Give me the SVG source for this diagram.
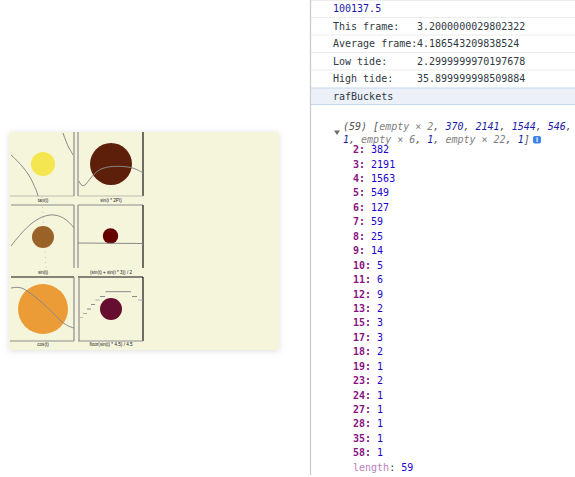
<svg xmlns="http://www.w3.org/2000/svg" width="575" height="477" viewBox="0 0 575 477">
<defs>
<filter id="sh" x="-10%" y="-10%" width="120%" height="120%">
<feDropShadow dx="0" dy="1" stdDeviation="3" flood-color="#000" flood-opacity="0.13"/>
</filter>
<clipPath id="cardclip"><rect x="9" y="132" width="270" height="218"/></clipPath>
</defs>
<style>
.mono{font-family:"DejaVu Sans Mono","Liberation Mono",monospace;font-size:10px}
.lbl{fill:#303942}
.num{fill:#1a1aa6}
.key{fill:#881280;font-weight:bold}
.val{fill:#1c00cf}
.gr{fill:#7f7f7f;font-style:italic}
.it{font-style:italic}
.sep{stroke:#ececec;stroke-width:1}
.cap{font-family:"Liberation Sans",Arial,sans-serif;font-size:4.6px;fill:#222;text-anchor:middle}
.crv{fill:none;stroke:#8a8a8a;stroke-width:1}
.bd{stroke:#8c8c8c;stroke-width:1.2}
.bk{stroke:#111;stroke-width:1.2}
.lt{stroke:#bdbdb0;stroke-width:1}
</style>
<rect width="575" height="477" fill="#ffffff"/>

<g id="card">
<rect x="9" y="132" width="270" height="218" fill="#f5f5dc" filter="url(#sh)"/>
<g clip-path="url(#cardclip)">
<g id="plot1">
<line class="lt" x1="10" y1="196" x2="74" y2="196"/>
<line class="bd" x1="74" y1="132" x2="74" y2="196"/>
<circle cx="43" cy="164" r="12" fill="#f3e650"/>
<path class="crv" d="M11,155 C20,163 28,172 33,183 C35,188 37,191 38,196"/>
<path class="crv" d="M63,133 C65,139 67,144 69,148 C71,151 72,153 73,155"/>
<text class="cap" x="43" y="202">tan(t)</text>
</g>
<g id="plot2">
<line class="bd" x1="78" y1="132" x2="78" y2="196"/>
<line class="bk" x1="143" y1="132" x2="143" y2="196"/>
<line class="lt" x1="78" y1="196" x2="143" y2="196" stroke="#aaa"/>
<circle cx="111" cy="164" r="21" fill="#5e1f0a"/>
<path class="crv" d="M79,181 C81,186 83,187 86,184 C91,178 96,170 104,168 C110,166 120,166 128,167 C135,168 140,171 143,173"/>
<text class="cap" x="111" y="202">sin(t * 2PI)</text>
</g>
<path d="M42,197 C43,220 45,250 47,282" fill="none" stroke="#9a9a9a" stroke-width="0.8" stroke-dasharray="1 4" opacity="0.7"/>
<g id="plot3">
<line class="bd" x1="11" y1="205" x2="74" y2="205"/>
<line class="bd" x1="74" y1="205" x2="74" y2="268"/>
<circle cx="43" cy="237" r="11" fill="#9a6227"/>
<path class="crv" d="M11,246 C22,232 34,217 50,215 C60,214 68,220 74,228"/>
<text class="cap" x="43" y="274">sin(t)</text>
</g>
<g id="plot4">
<line class="bd" x1="78" y1="205" x2="143" y2="205"/>
<line class="bd" x1="78" y1="205" x2="78" y2="268"/>
<line class="bk" x1="143" y1="205" x2="143" y2="268"/>
<circle cx="110.5" cy="236" r="7.7" fill="#660000"/>
<line class="crv" x1="78" y1="243" x2="143" y2="243.5" stroke="#8a8a8a"/>
<text class="cap" x="111" y="274">(sin(t) + sin(t * 3)) / 2</text>
</g>
<g id="plot5">
<line class="bk" x1="11" y1="277" x2="74" y2="277" stroke="#444"/>
<line class="bd" x1="74" y1="277" x2="74" y2="341"/>
<line class="bd" x1="10" y1="341" x2="74" y2="341"/>
<circle cx="43" cy="309" r="25" fill="#eb9c37"/>
<path class="crv" d="M11,288 C16,287 20,287 24,289 C36,296 50,310 60,320 C65,325 70,327 74,328"/>
<text class="cap" x="43" y="346">cos(t)</text>
</g>
<g id="plot6">
<line class="bk" x1="78" y1="277" x2="143" y2="277"/>
<line class="bd" x1="79" y1="277" x2="79" y2="341" stroke="#555"/>
<line class="bk" x1="143" y1="277" x2="143" y2="341"/>
<line class="bd" x1="78" y1="341" x2="143" y2="341" stroke="#444"/>
<circle cx="111" cy="309" r="11" fill="#660e30"/>
<g class="crv">
<line x1="79" y1="317.5" x2="83" y2="317.5" stroke="#c4c4b4"/>
<line x1="83" y1="313.5" x2="87" y2="313.5" stroke="#aaa"/>
<line x1="87" y1="309" x2="91" y2="309"/>
<line x1="91" y1="304.5" x2="95" y2="304.5"/>
<line x1="95.5" y1="300" x2="99.5" y2="300" stroke="#aaa"/>
<line x1="100" y1="296.5" x2="105" y2="296.5"/>
<line x1="105.5" y1="291.7" x2="131" y2="291.7"/>
<line x1="132" y1="296.5" x2="137" y2="296.5"/>
<line x1="138" y1="300" x2="142.5" y2="300" stroke="#aaa"/>
</g>
<text class="cap" x="111" y="346">floor(sin(t) * 4.5) / 4.5</text>
</g>
</g>
</g>

<g id="console">
<line x1="310.5" y1="0" x2="310.5" y2="475" stroke="#c8c8c8" stroke-width="1.2"/>
<g id="rows">
<line class="sep" x1="311" y1="0.5" x2="575" y2="0.5"/>
<line class="sep" x1="311" y1="17.5" x2="575" y2="17.5"/>
<line class="sep" x1="311" y1="35" x2="575" y2="35"/>
<line class="sep" x1="311" y1="52.5" x2="575" y2="52.5"/>
<line class="sep" x1="311" y1="70" x2="575" y2="70"/>
<rect x="311" y="88" width="264" height="16.5" fill="#ecf1f9"/>
<line x1="311" y1="88" x2="575" y2="88" stroke="#c5d7f0" stroke-width="1"/>
<line x1="311" y1="104.5" x2="575" y2="104.5" stroke="#c5d7f0" stroke-width="1"/>
<text class="mono num" x="333" y="12">100137.5</text>
<text class="mono lbl" x="333" y="29.5">This frame:</text>
<text class="mono lbl" x="417" y="29.5">3.2000000029802322</text>
<text class="mono lbl" x="333" y="47">Average frame:</text>
<text class="mono lbl" x="417" y="47">4.186543209838524</text>
<text class="mono lbl" x="333" y="64.5">Low tide:</text>
<text class="mono lbl" x="417" y="64.5">2.2999999970197678</text>
<text class="mono lbl" x="333" y="82">High tide:</text>
<text class="mono lbl" x="417" y="82">35.899999998509884</text>
<text class="mono lbl" x="333" y="99.5">rafBuckets</text>
</g>
<g id="array">
<polygon points="334,130.5 340,130.5 337,135" fill="#6e6e6e"/>
<text class="mono it" x="343" y="130"><tspan fill="#555">(59) </tspan><tspan fill="#555">[</tspan><tspan fill="#808080">empty × 2</tspan><tspan fill="#555">, </tspan><tspan class="num">370</tspan><tspan fill="#555">, </tspan><tspan class="num">2141</tspan><tspan fill="#555">, </tspan><tspan class="num">1544</tspan><tspan fill="#555">, </tspan><tspan class="num">546</tspan><tspan fill="#555">,</tspan></text>
<text class="mono it" x="343" y="142.5"><tspan class="num">1</tspan><tspan fill="#555">, </tspan><tspan fill="#808080">empty × 6</tspan><tspan fill="#555">, </tspan><tspan class="num">1</tspan><tspan fill="#555">, </tspan><tspan fill="#808080">empty × 22</tspan><tspan fill="#555">, </tspan><tspan class="num">1</tspan><tspan fill="#555">]</tspan></text>
<rect x="533" y="136" width="8" height="7.5" rx="1.8" fill="#3d83ef"/>
<text x="537" y="142.3" font-family="Liberation Sans,Arial,sans-serif" font-size="7" font-weight="bold" fill="#fff" text-anchor="middle">i</text>
<g class="mono">
<text x="353" y="153"><tspan class="key">2:</tspan><tspan class="val"> 382</tspan></text>
<text x="353" y="167.5"><tspan class="key">3:</tspan><tspan class="val"> 2191</tspan></text>
<text x="353" y="182"><tspan class="key">4:</tspan><tspan class="val"> 1563</tspan></text>
<text x="353" y="196.4"><tspan class="key">5:</tspan><tspan class="val"> 549</tspan></text>
<text x="353" y="210.8"><tspan class="key">6:</tspan><tspan class="val"> 127</tspan></text>
<text x="353" y="225.3"><tspan class="key">7:</tspan><tspan class="val"> 59</tspan></text>
<text x="353" y="239.7"><tspan class="key">8:</tspan><tspan class="val"> 25</tspan></text>
<text x="353" y="254.2"><tspan class="key">9:</tspan><tspan class="val"> 14</tspan></text>
<text x="353" y="268.6"><tspan class="key">10:</tspan><tspan class="val"> 5</tspan></text>
<text x="353" y="283"><tspan class="key">11:</tspan><tspan class="val"> 6</tspan></text>
<text x="353" y="297.5"><tspan class="key">12:</tspan><tspan class="val"> 9</tspan></text>
<text x="353" y="311.9"><tspan class="key">13:</tspan><tspan class="val"> 2</tspan></text>
<text x="353" y="326.4"><tspan class="key">15:</tspan><tspan class="val"> 3</tspan></text>
<text x="353" y="340.8"><tspan class="key">17:</tspan><tspan class="val"> 3</tspan></text>
<text x="353" y="355.2"><tspan class="key">18:</tspan><tspan class="val"> 2</tspan></text>
<text x="353" y="369.7"><tspan class="key">19:</tspan><tspan class="val"> 1</tspan></text>
<text x="353" y="384.1"><tspan class="key">23:</tspan><tspan class="val"> 2</tspan></text>
<text x="353" y="398.6"><tspan class="key">24:</tspan><tspan class="val"> 1</tspan></text>
<text x="353" y="413"><tspan class="key">27:</tspan><tspan class="val"> 1</tspan></text>
<text x="353" y="427.4"><tspan class="key">28:</tspan><tspan class="val"> 1</tspan></text>
<text x="353" y="441.9"><tspan class="key">35:</tspan><tspan class="val"> 1</tspan></text>
<text x="353" y="456.3"><tspan class="key">58:</tspan><tspan class="val"> 1</tspan></text>
<text x="353" y="470.8"><tspan fill="#c07fc0">length</tspan><tspan fill="#303942">:</tspan><tspan class="val"> 59</tspan></text>
</g>
</g>
</g>
</svg>
